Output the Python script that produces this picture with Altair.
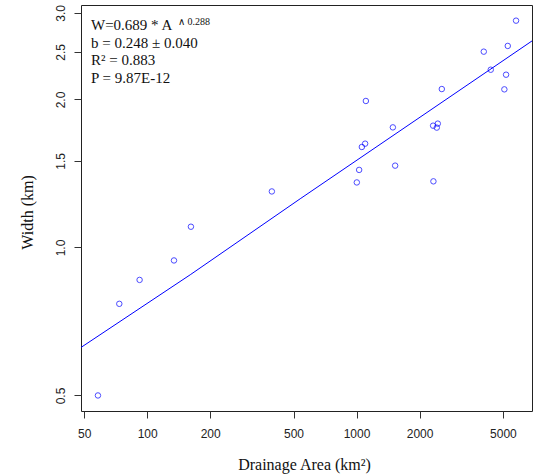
import altair as alt
import pandas as pd

area_km2 = [58.2, 73.6, 92.0, 134.3, 161.8, 394, 1003, 1029, 1060, 1099, 1108,
            1491, 1529, 2321, 2329, 2417, 2444, 2554, 4052, 4376, 5082, 5178,
            5276, 5779]
width_km = [0.50, 0.768, 0.859, 0.941, 1.102, 1.30, 1.356, 1.438, 1.601, 1.626,
            1.986, 1.755, 1.467, 1.769, 1.363, 1.753, 1.786, 2.10, 2.502, 2.299,
            2.097, 2.246, 2.570, 2.893]

# Fitted line
fit_area = [48.0, 160.6, 538.0, 6900]
fit_width = [0.625, 0.880, 1.256, 2.632]

x_ticks = [50, 100, 200, 500, 1000, 2000, 5000]
y_ticks = [0.5, 1.0, 1.5, 2.0, 2.5, 3.0]
x_domain = [48.3, 6887]
y_domain = [0.4649, 3.113]

annotation_lines = ["W=0.689 * A", "b = 0.248 \u00b1 0.040", "R\u00b2 = 0.883", "P = 9.87E-12"]
exponent_text = "\u2227 0.288"

pts = pd.DataFrame({"area": area_km2, "width": width_km})
fit = pd.DataFrame({"area": fit_area, "width": fit_width})

xs = alt.Scale(type="log", domain=x_domain, nice=False, zero=False)
ys = alt.Scale(type="log", domain=y_domain, nice=False, zero=False)

x_axis = alt.Axis(values=x_ticks, format="d", title="Drainage Area (km\u00b2)",
                  grid=False, domain=False, tickSize=7, tickColor="#333",
                  labelFont="Liberation Sans", labelFontSize=12, labelColor="#222",
                  labelPadding=10, labelFlush=False, labelOverlap=False,
                  titleFont="Liberation Serif", titleFontSize=16, titleFontWeight="normal",
                  titleColor="#111", titleX=223, titleY=58, titleBaseline="alphabetic")
y_axis = alt.Axis(values=y_ticks, format=".1f", title="Width (km)",
                  grid=False, domain=False, tickSize=7, tickColor="#333",
                  labelFont="Liberation Sans", labelFontSize=12, labelColor="#222",
                  labelAngle=270, labelAlign="center", labelBaseline="bottom",
                  labelPadding=7, labelFlush=False, labelOverlap=False,
                  titleFont="Liberation Serif", titleFontSize=16, titleFontWeight="normal",
                  titleColor="#111", titleX=-49, titleY=207, titleBaseline="alphabetic")

points = alt.Chart(pts).mark_point(shape="circle", filled=False, color="blue",
                                   strokeWidth=1, size=30).encode(
    x=alt.X("area:Q", scale=xs, axis=x_axis),
    y=alt.Y("width:Q", scale=ys, axis=y_axis),
)

line = alt.Chart(fit).mark_line(color="blue", strokeWidth=1, clip=True).encode(
    x=alt.X("area:Q", scale=xs),
    y=alt.Y("width:Q", scale=ys),
)

ann = alt.Chart(pd.DataFrame({"t": ["\n".join(annotation_lines)]})).mark_text(
    align="left", baseline="alphabetic", lineBreak="\n", lineHeight=17.5,
    font="Liberation Serif", fontSize=15, color="#111"
).encode(text="t:N", x=alt.value(10), y=alt.value(25))

sup = alt.Chart(pd.DataFrame({"t": [exponent_text]})).mark_text(
    align="left", baseline="alphabetic", font="Liberation Serif", fontSize=10, color="#111"
).encode(text="t:N", x=alt.value(97), y=alt.value(20))

chart = alt.layer(line, points, ann, sup).properties(
    width=451, height=406,
    autosize=alt.AutoSizeParams(type="none"),
    padding={"left": 81, "top": 5, "right": 7, "bottom": 65},
    background="white",
).configure_view(stroke="#222", strokeWidth=1)

chart.save("out.html", embed_options={"renderer": "svg", "actions": False})
